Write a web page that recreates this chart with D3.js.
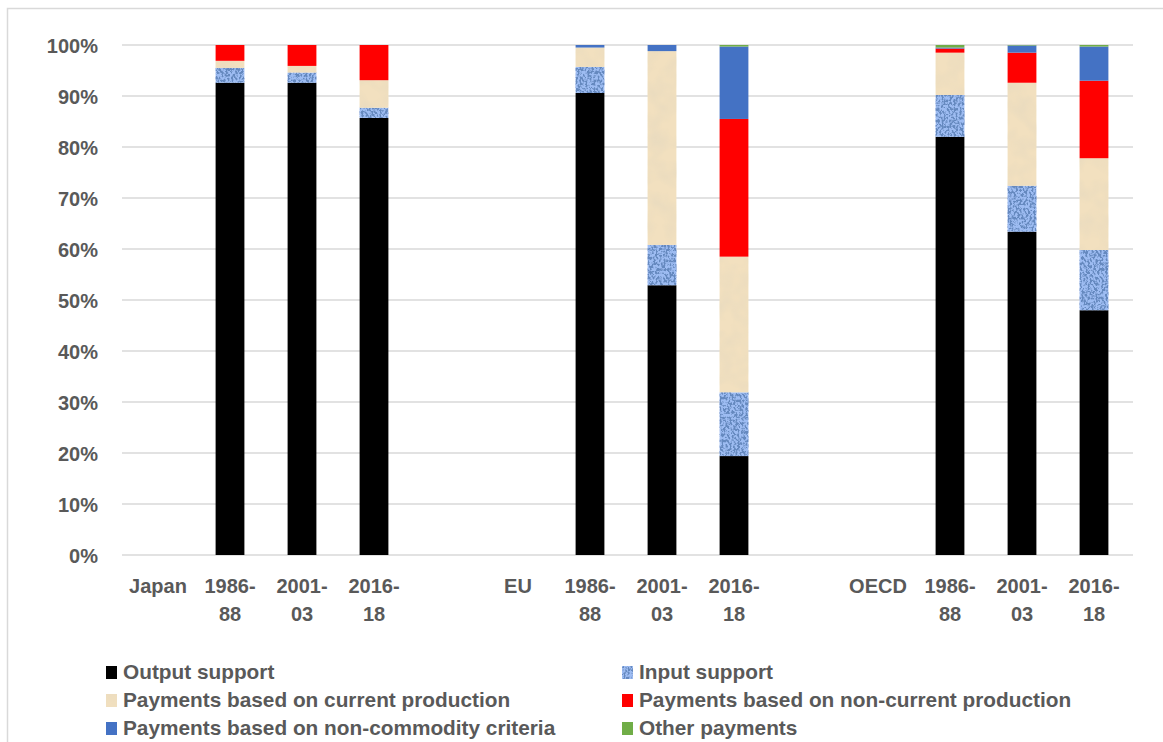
<!DOCTYPE html>
<html><head><meta charset="utf-8">
<script src="https://cdn.jsdelivr.net/npm/d3@7"></script>
<style>
html,body{margin:0;padding:0;background:#fff;}
svg text{font-family:"Liberation Sans",Arial,sans-serif;font-weight:bold;fill:#595959;}
</style></head>
<body><svg id="chart" width="1163" height="742"></svg>
<script>
// Category slots (group label slots and blank spacer slots have no bars)
const categories = ["Japan","J1986","J2001","J2016","gap1","EU","E1986","E2001","E2016","gap2","OECD","O1986","O2001","O2016"];
const categoryLabels = ["Japan","1986-\n88","2001-\n03","2016-\n18","","EU","1986-\n88","2001-\n03","2016-\n18","","OECD","1986-\n88","2001-\n03","2016-\n18"];
const seriesNames = ["Output support","Input support","Payments based on current production","Payments based on non-current production","Payments based on non-commodity criteria","Other payments"];
// values in % per bar slot (null = no bar)
const outputSupport      = [null,92.6,92.6,85.7,null,null,90.6,52.9,19.4,null,null,82.0,63.4,48.0];
const inputSupport       = [null, 2.9, 2.0, 2.0,null,null, 5.1, 7.9,12.5,null,null, 8.2, 9.0,11.8];
const currentProduction  = [null, 1.4, 1.3, 5.4,null,null, 3.8,38.0,26.6,null,null, 8.3,20.2,18.0];
const nonCurrentProd     = [null, 3.1, 4.1, 6.9,null,null, 0.0, 0.0,27.0,null,null, 0.8, 5.9,15.2];
const nonCommodity       = [null, 0.0, 0.0, 0.0,null,null, 0.5, 1.2,14.2,null,null, 0.2, 1.4, 6.7];
const otherPayments      = [null, 0.0, 0.0, 0.0,null,null, 0.0, 0.0, 0.3,null,null, 0.5, 0.1, 0.3];
const yTicks = [0,10,20,30,40,50,60,70,80,90,100];

const seriesValues = [outputSupport,inputSupport,currentProduction,nonCurrentProd,nonCommodity,otherPayments];

const svg = d3.select("#chart");
const defs = svg.append("defs");

// Blue textured fill (input support)
const f1 = defs.append("filter").attr("id","blueTex").attr("x",0).attr("y",0).attr("width",1).attr("height",1);
f1.append("feTurbulence").attr("type","fractalNoise").attr("baseFrequency","0.5 0.35").attr("numOctaves",2).attr("seed",3).attr("result","n");
f1.append("feColorMatrix").attr("in","n").attr("type","matrix")
  .attr("values","0 0 0 0 0.13  0 0 0 0 0.25  0 0 0 0 0.52  7 0 0 0 -3.1").attr("result","dots");
f1.append("feComposite").attr("in","dots").attr("in2","SourceGraphic").attr("operator","in").attr("result","clip");
const m1 = f1.append("feMerge");
m1.append("feMergeNode").attr("in","SourceGraphic");
m1.append("feMergeNode").attr("in","clip");

// Beige textured fill (current production)
const f2 = defs.append("filter").attr("id","beigeTex").attr("x",0).attr("y",0).attr("width",1).attr("height",1);
f2.append("feTurbulence").attr("type","fractalNoise").attr("baseFrequency","0.06").attr("numOctaves",2).attr("seed",7).attr("result","n");
f2.append("feColorMatrix").attr("in","n").attr("type","matrix")
  .attr("values","0 0 0 0 0.80  0 0 0 0 0.70  0 0 0 0 0.52  1.6 0 0 0 -0.6").attr("result","dots");
f2.append("feComposite").attr("in","dots").attr("in2","SourceGraphic").attr("operator","in").attr("result","clip");
const m2 = f2.append("feMerge");
m2.append("feMergeNode").attr("in","SourceGraphic");
m2.append("feMergeNode").attr("in","clip");

const baseFill = ["#000000","#9dbcf2","#f2e0bf","#ff0000","#4472c4","#70ad47"];
const filters = [null,"url(#blueTex)","url(#beigeTex)",null,null,null];

// outer frame (top and left light lines)
svg.append("path").attr("d","M7.5,742 V8.5 H1163").attr("fill","none").attr("stroke","#d9d9d9").attr("stroke-width",1.5);

const x = d3.scaleBand().domain(categories).range([122,1130]).paddingInner(0.6).paddingOuter(0.3);
const y = d3.scaleLinear().domain([0,100]).range([555,45]);

// gridlines
svg.append("g").selectAll("line").data(yTicks).join("line")
  .attr("x1",122).attr("x2",1133).attr("y1",d=>y(d)).attr("y2",d=>y(d))
  .attr("stroke","#d9d9d9").attr("stroke-width",1.5);

// y axis labels
const yAxis = d3.axisLeft(y).tickValues(yTicks).tickFormat(d=>d+"%").tickSize(0).tickPadding(0);
const ya = svg.append("g").attr("transform","translate(98,0)").call(yAxis);
ya.select(".domain").remove();
ya.selectAll("text").attr("font-size","20px").attr("fill","#595959").attr("dy","0.35em")
  .style("font-family","'Liberation Sans',Arial,sans-serif").style("font-weight","bold");

// stacked bars
const rows = categories.map((c,i)=>{const o={cat:c}; seriesValues.forEach((s,k)=>o[k]=s[i]==null?0:s[i]); return o;});
const stack = d3.stack().keys(d3.range(seriesValues.length))(rows);
const barG = svg.append("g");
stack.forEach((layer,k)=>{
  barG.append("g").selectAll("rect").data(layer.filter((d,i)=>seriesValues[k][i]!=null && seriesValues[k][i]>0)).join("rect")
    .attr("x",d=>x(d.data.cat)).attr("width",x.bandwidth())
    .attr("y",d=>y(d[1])).attr("height",d=>y(d[0])-y(d[1]))
    .attr("fill",baseFill[k])
    .attr("filter",filters[k]);
});

// x axis category labels
const xAxis = d3.axisBottom(x).tickFormat(()=>"").tickSize(0);
const xa = svg.append("g").attr("transform","translate(0,555)").call(xAxis);
xa.select(".domain").remove();
const lab = svg.append("g");
categories.forEach((c,i)=>{
  const parts = categoryLabels[i].split("\n");
  const t = lab.append("text").attr("text-anchor","middle").attr("font-size","20px")
    .attr("x",x(c)+x.bandwidth()/2).attr("y",593);
  parts.forEach((p,j)=>t.append("tspan").attr("x",x(c)+x.bandwidth()/2).attr("dy",j===0?0:28).text(p));
});

// legend
const legendPos = [[106,672],[622,672],[106,700],[622,700],[106,728],[622,728]];
const lg = svg.append("g");
seriesNames.forEach((n,k)=>{
  const [lx,ly] = legendPos[k];
  lg.append("rect").attr("x",lx).attr("y",ly-6).attr("width",11).attr("height",13)
    .attr("fill",baseFill[k]).attr("filter",filters[k]);
  lg.append("text").attr("x",lx+17).attr("y",ly+7).attr("font-size","20.8px").text(n);
});
</script></body></html>
